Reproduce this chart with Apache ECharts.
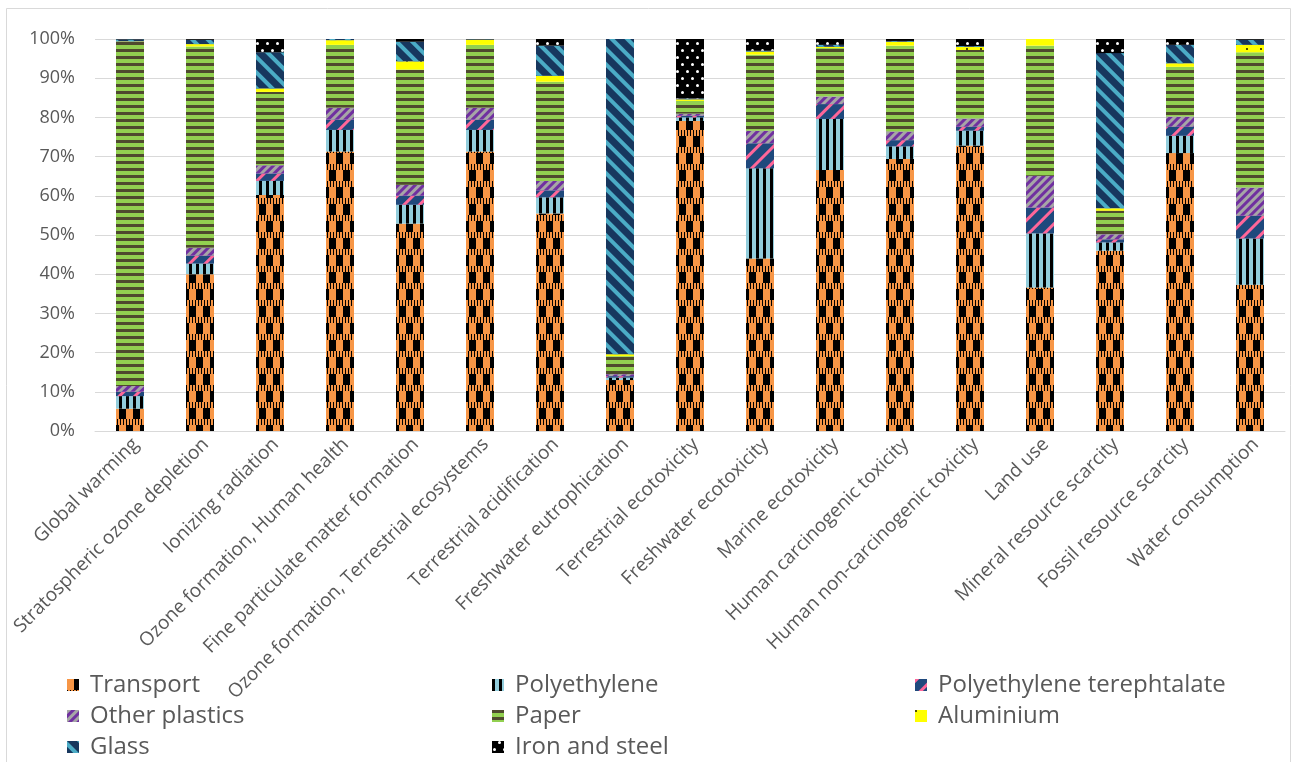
<!DOCTYPE html>
<html><head><meta charset="utf-8">
<script src="https://cdn.jsdelivr.net/npm/echarts@6/dist/echarts.min.js"></script>
<style>html,body{margin:0;padding:0;background:#fff}#c{width:1292px;height:762px}</style>
</head><body><div id="c"></div><script>
const categories = ["Global warming","Stratospheric ozone depletion","Ionizing radiation","Ozone formation, Human health","Fine particulate matter formation","Ozone formation, Terrestrial ecosystems","Terrestrial acidification","Freshwater eutrophication","Terrestrial ecotoxicity","Freshwater ecotoxicity","Marine ecotoxicity","Human carcinogenic toxicity","Human non-carcinogenic toxicity","Land use","Mineral resource scarcity","Fossil resource scarcity","Water consumption"];
const transport     = [5.7, 40.0, 60.2, 71.3, 52.9, 71.3, 55.5, 13.0, 79.1, 44.0, 66.6, 69.4, 72.8, 36.6, 46.0, 70.9, 37.3];
const polyethylene  = [3.2, 2.7, 3.6, 5.5, 4.8, 5.5, 4.1, 0.6, 0.9, 23.0, 13.0, 3.2, 3.8, 13.8, 2.1, 4.4, 11.8];
const pet           = [1.1, 2.0, 1.9, 2.6, 2.3, 2.6, 1.8, 0.4, 0.4, 6.4, 3.8, 1.6, 1.0, 6.6, 0.8, 2.3, 5.8];
const otherPlastics = [1.5, 2.1, 2.1, 3.1, 2.8, 3.1, 2.4, 0.5, 0.6, 3.2, 1.9, 2.2, 2.1, 8.1, 1.3, 2.6, 7.2];
const paper         = [87.8, 51.3, 18.7, 16.0, 29.4, 16.0, 25.3, 4.6, 3.2, 19.4, 12.4, 21.9, 17.5, 33.2, 6.0, 12.7, 34.5];
const aluminium     = [0.1, 0.6, 0.9, 1.2, 2.1, 1.3, 1.5, 0.5, 0.4, 0.8, 0.3, 1.0, 0.8, 1.7, 0.6, 0.9, 1.9];
const glass         = [0.5, 1.1, 9.2, 0.3, 5.0, 0.1, 7.7, 80.4, 0.2, 0.2, 0.5, 0.2, 0.2, 0.0, 39.6, 4.7, 1.3];
const ironSteel     = [0.1, 0.2, 3.4, 0.0, 0.7, 0.1, 1.7, 0.0, 15.2, 3.0, 1.5, 0.5, 1.8, 0.0, 3.6, 1.5, 0.2];
const yTicks = [0, 10, 20, 30, 40, 50, 60, 70, 80, 90, 100];

const FONT = "'Open Sans', sans-serif";
const TXT = '#595959';

const styles = {
  "Transport": {color:'#f79646', decal:{color:'#000', symbol:'rect', symbolSize:1,
      dashArrayX:[[7,7],[1,2],[0,7,7,0],[1,2]], dashArrayY:[11,0,6,0]}},
  "Polyethylene": {color:'#92cddc', decal:{color:'#000', symbol:'rect', symbolSize:1, dashArrayX:[3,4], dashArrayY:[1,0]}},
  "Polyethylene terephtalate": {color:'#1f497d', decal:{color:'#ff6699', symbol:'rect', symbolSize:1, dashArrayX:[1,0], dashArrayY:[3,8], rotation:-Math.PI/4}},
  "Other plastics": {color:'#7030a0', decal:{color:'#a6a6a6', symbol:'rect', symbolSize:1, dashArrayX:[1,0], dashArrayY:[3,3], rotation:-Math.PI/4}},
  "Paper": {color:'#92d050', decal:{color:'#4f4a2e', symbol:'rect', symbolSize:1, dashArrayX:[1,0], dashArrayY:[3,3.7]}},
  "Aluminium": {color:'#ffff00', decal:{color:'#000', symbol:'circle', symbolSize:0.9, dashArrayX:[2,12], dashArrayY:[2,10]}},
  "Glass": {color:'#17375e', decal:{color:'#4bacc6', symbol:'rect', symbolSize:1, dashArrayX:[1,0], dashArrayY:[4,7], rotation:Math.PI/4}},
  "Iron and steel": {color:'#000000', decal:{color:'#ffffff', symbol:'circle', symbolSize:1, symbolKeepAspect:false,
      dashArrayX:[[5,5],[0,5,5,0]], dashArrayY:[3,4]}}
};

const seriesData = [
  ["Transport", transport],
  ["Polyethylene", polyethylene],
  ["Polyethylene terephtalate", pet],
  ["Other plastics", otherPlastics],
  ["Paper", paper],
  ["Aluminium", aluminium],
  ["Glass", glass],
  ["Iron and steel", ironSteel]
];

const chart = echarts.init(document.getElementById('c'), null, {renderer:'canvas'});
const legendBase = {
  orient:'vertical', top:673, padding:0, icon:'rect', itemWidth:12, itemHeight:12, itemGap:7,
  textStyle:{color:TXT, fontFamily:FONT, fontSize:24, lineHeight:24, padding:[0,0,0,6]}, selectedMode:false
};
chart.setOption({
  animation:false,
  backgroundColor:'#fff',
  graphic:[{type:'rect', shape:{x:6.5, y:8.5, width:1284, height:800}, style:{fill:'none', stroke:'#d9d9d9', lineWidth:1}, silent:true}],
  grid:{left:95, right:7, top:39, bottom:331},
  legend:[
    Object.assign({}, legendBase, {left:67, data:["Transport","Other plastics","Glass"]}),
    Object.assign({}, legendBase, {left:492, data:["Polyethylene","Paper","Iron and steel"]}),
    Object.assign({}, legendBase, {left:915, data:["Polyethylene terephtalate","Aluminium"]})
  ],
  xAxis:{type:'category', data:categories,
    axisLine:{lineStyle:{color:'#d9d9d9', width:1}}, axisTick:{show:false},
    axisLabel:{interval:0, rotate:45, color:TXT, fontFamily:FONT, fontSize:19, margin:16, padding:[0,-8,0,0]}},
  yAxis:{type:'value', min:0, max:100, interval:10,
    axisLine:{show:false}, axisTick:{show:false},
    splitLine:{lineStyle:{color:'#d9d9d9', width:1}},
    axisLabel:{color:TXT, fontFamily:FONT, fontSize:18, margin:20, formatter:v=>v+'%'}},
  series: seriesData.map(([name, vals]) => ({
    name, type:'bar', stack:'total', barWidth:28, data:vals,
    itemStyle:{color:styles[name].color, decal:styles[name].decal}
  }))
});
</script></body></html>
